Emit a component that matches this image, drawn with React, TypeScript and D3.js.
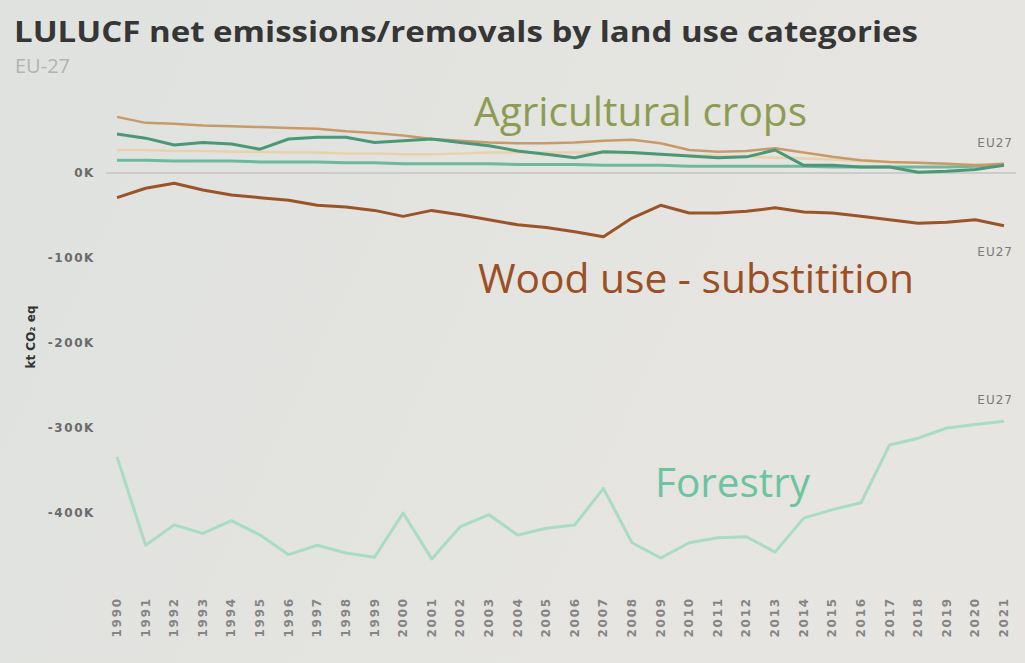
import React, { useEffect, useRef } from 'react';
import * as d3 from 'd3';

const years = d3.range(1990, 2022).map(String);

// kt CO2 eq
const agriTan = [66, 59, 58, 56, 55, 54, 53, 52, 49, 47, 44, 40, 38, 36, 35, 35, 36, 38, 39, 35, 27, 25, 26, 29, 24, 19, 15, 13, 12, 11, 9, 11];
const agriGreen = [46, 41, 33, 36, 34, 28, 40, 42, 42, 36, 38, 40, 36, 32, 26, 22, 18, 25, 24, 22, 20, 18, 19, 27, 9, 9, 7, 7, 1, 2, 4, 9];
const agriBeige = [27, 27, 26, 26, 25, 25, 24, 24, 23, 23, 22, 22, 23, 24, 24, 24, 24, 24, 23, 22, 21, 20, 19, 18, 17, 16, 14, 13, 12, 11, 10, 10];
const agriTeal = [15, 15, 14, 14, 14, 13, 13, 13, 12, 12, 11, 11, 11, 11, 10, 10, 10, 9, 9, 9, 8, 8, 8, 8, 8, 7, 7, 7, 7, 7, 8, 9];
const woodUse = [-29, -18, -12, -20, -26, -29, -32, -38, -40, -44, -51, -44, -49, -55, -61, -64, -69, -75, -53, -38, -47, -47, -45, -41, -46, -47, -51, -55, -59, -58, -55, -62];
const forestry = [-334, -438, -414, -424, -409, -426, -449, -438, -447, -452, -400, -454, -416, -402, -426, -418, -414, -371, -435, -453, -435, -429, -428, -446, -406, -396, -388, -320, -312, -300, -296, -292];

const yTicks = [0, -100, -200, -300, -400];

const series = [
  { data: forestry, color: '#a8dcc3', width: 3 },
  { data: agriBeige, color: '#e9d1ab', width: 2.5 },
  { data: agriTeal, color: '#6db9a0', width: 3 },
  { data: agriTan, color: '#c99a68', width: 2.5 },
  { data: agriGreen, color: '#4a9877', width: 3 },
  { data: woodUse, color: '#9a5428', width: 3 },
];

const W = 1025;
const H = 663;

const App: React.FC = () => {
  const svgRef = useRef<SVGSVGElement>(null);

  useEffect(() => {
    if (!svgRef.current) return;
    const svg = d3.select(svgRef.current);
    svg.selectAll('*').remove();

    const x = d3.scalePoint<string>().domain(years).range([117, 1004]);
    const y = d3.scaleLinear().domain([0, -400]).range([173, 513]);

    // slide background (photo of a screen)
    const defs = svg.append('defs');
    const grad = defs.append('linearGradient').attr('id', 'bg').attr('x1', '0').attr('x2', '1').attr('y1', '0').attr('y2', '0.3');
    grad.append('stop').attr('offset', '0%').attr('stop-color', '#dfe2df');
    grad.append('stop').attr('offset', '100%').attr('stop-color', '#e7e5e1');
    svg.append('rect').attr('width', W).attr('height', H).attr('fill', 'url(#bg)');

    // titles
    svg.append('text')
      .attr('x', 14).attr('y', 42)
      .attr('font-family', 'Open Sans, sans-serif').attr('font-weight', 700)
      .attr('font-size', 28).attr('fill', '#363636')
      .attr('textLength', 904).attr('lengthAdjust', 'spacingAndGlyphs')
      .text('LULUCF net emissions/removals by land use categories');
    svg.append('text')
      .attr('x', 15).attr('y', 73)
      .attr('font-family', 'Open Sans, sans-serif')
      .attr('font-size', 20).attr('fill', '#b3b3b3')
      .text('EU-27');

    // y axis labels
    const yAxis = svg.append('g');
    yAxis.selectAll('text').data(yTicks).join('text')
      .attr('x', 95).attr('y', d => y(d))
      .attr('dy', '0.35em').attr('text-anchor', 'end')
      .attr('font-family', 'DejaVu Sans, sans-serif').attr('font-weight', 700)
      .attr('font-size', 12).attr('letter-spacing', 1.6)
      .attr('fill', '#6a6a6a')
      .text(d => `${d}K`);

    svg.append('text')
      .attr('transform', `translate(35,337) rotate(-90)`)
      .attr('text-anchor', 'middle')
      .attr('font-family', 'DejaVu Sans, sans-serif').attr('font-weight', 700)
      .attr('font-size', 12).attr('fill', '#333')
      .text('kt CO₂ eq');

    // zero line
    svg.append('line')
      .attr('x1', 106).attr('x2', 1016)
      .attr('y1', y(0)).attr('y2', y(0))
      .attr('stroke', '#c3c3c3').attr('stroke-width', 1.5);

    // x axis labels
    svg.append('g').selectAll('text').data(years).join('text')
      .attr('transform', d => `translate(${x(d)! + 4},597) rotate(-90)`)
      .attr('text-anchor', 'end')
      .attr('font-family', 'DejaVu Sans, sans-serif').attr('font-weight', 700)
      .attr('font-size', 12).attr('letter-spacing', 1.8)
      .attr('fill', '#858585')
      .text(d => d);

    // lines
    const line = d3.line<number>()
      .x((_, i) => x(years[i])!)
      .y(d => y(d));

    series.forEach(s => {
      svg.append('path')
        .datum(s.data)
        .attr('fill', 'none')
        .attr('stroke', s.color)
        .attr('stroke-width', s.width)
        .attr('stroke-linejoin', 'round')
        .attr('d', line);
    });

    // end labels
    const endLabels = [
      { text: 'EU27', v: agriTan[agriTan.length - 1], dy: -17 },
      { text: 'EU27', v: woodUse[woodUse.length - 1], dy: 30 },
      { text: 'EU27', v: forestry[forestry.length - 1], dy: -17 },
    ];
    svg.append('g').selectAll('text').data(endLabels).join('text')
      .attr('x', 1013).attr('y', d => y(d.v) + d.dy)
      .attr('text-anchor', 'end')
      .attr('font-family', 'DejaVu Sans, sans-serif')
      .attr('font-size', 12).attr('letter-spacing', 1)
      .attr('fill', '#7a7a7a')
      .text(d => d.text);

    // category annotations
    const notes = [
      { text: 'Agricultural crops', x: 474, y: 126, len: 333, color: '#8c9c52' },
      { text: 'Wood use - substitition', x: 478, y: 293, len: 436, color: '#9a4f25' },
      { text: 'Forestry', x: 655, y: 497, len: 155, color: '#6cc49f' },
    ];
    svg.append('g').selectAll('text').data(notes).join('text')
      .attr('x', d => d.x).attr('y', d => d.y)
      .attr('font-family', 'Open Sans, sans-serif')
      .attr('font-size', 40).attr('fill', d => d.color)
      .attr('textLength', d => d.len).attr('lengthAdjust', 'spacingAndGlyphs')
      .text(d => d.text);
  }, []);

  return (
    <div style={{ position: 'absolute', left: 0, top: 0 }}>
      <svg ref={svgRef} width={W} height={H} style={{ display: 'block' }}></svg>
    </div>
  );
};

export default App;
